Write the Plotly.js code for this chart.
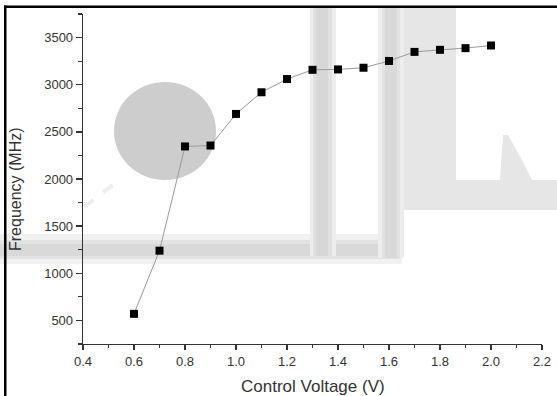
<!DOCTYPE html>
<html>
<head>
<meta charset="utf-8">
<script src="https://cdn.plot.ly/plotly-3.0.1.min.js"></script>
<style>
html,body{margin:0;padding:0;background:#fff;}
#wrap{position:relative;width:557px;height:396px;overflow:hidden;background:#fff;}
#chart{position:absolute;left:0;top:0;width:557px;height:396px;}
</style>
</head>
<body>
<div id="wrap"><div id="chart"></div>
<svg width="557" height="396" style="position:absolute;left:0;top:0;z-index:10;pointer-events:none">
  <rect x="4" y="5.5" width="553" height="2.5" fill="#000"></rect>
  <rect x="4" y="5.5" width="2.5" height="391" fill="#000"></rect>
</svg>
</div>
<script>
// Data
const voltage = [0.6, 0.7, 0.8, 0.9, 1.0, 1.1, 1.2, 1.3, 1.4, 1.5, 1.6, 1.7, 1.8, 1.9, 2.0];
const frequency = [570, 1240, 2345, 2355, 2690, 2920, 3060, 3158, 3162, 3180, 3252, 3348, 3370, 3388, 3416];
const xTitle = "Control Voltage (V)";
const yTitle = "Frequency (MHz)";

// Layout geometry (pixels)
const W = 557, H = 396;
const M = {l: 83, r: 15, t: 14, b: 52};
const PW = W - M.l - M.r, PH = H - M.t - M.b;
const px = x => (x - M.l) / PW;
const py = y => (M.t + PH - y) / PH;

function rect(x0, y0, x1, y1, color) {
  return {type: 'rect', xref: 'paper', yref: 'paper', layer: 'below',
    x0: px(x0), x1: px(x1), y0: py(y1), y1: py(y0),
    fillcolor: color, line: {width: 0}};
}

const shapes = [
  // faint watermark
  rect(0, 234, 402, 264, '#f1f1f1'),
  rect(0, 240, 400, 259, '#e3e3e3'),
  rect(0, 244, 398, 256, '#d9d9d9'),
  rect(310, 8, 336, 256, '#ededed'),
  rect(313, 8, 332, 256, '#e0e0e0'),
  rect(316, 8, 328, 256, '#d7d7d7'),
  rect(378, 8, 404, 258, '#ededed'),
  rect(382, 8, 400, 258, '#e2e2e2'),
  rect(385, 8, 397, 258, '#d9d9d9'),
  rect(404, 8, 456, 202, '#e6e6e6'),
  rect(404, 180, 557, 210, '#e6e6e6'),
  {type: 'path', xref: 'paper', yref: 'paper', layer: 'below',
    path: `M ${px(500)} ${py(180)} L ${px(503)} ${py(135)} L ${px(508)} ${py(135)} L ${px(522)} ${py(160)} L ${px(532)} ${py(180)} Z`,
    fillcolor: '#e6e6e6', line: {width: 0}},
  {type: 'circle', xref: 'paper', yref: 'paper', layer: 'below',
    x0: px(114), x1: px(216), y0: py(180), y1: py(82),
    fillcolor: '#cdcdcd', line: {width: 0}},
  {type: 'line', xref: 'paper', yref: 'paper', layer: 'below',
    x0: px(84), y0: py(207), x1: px(122), y1: py(178),
    line: {color: '#ededed', width: 4, dash: 'dash'}}
];

const font = {family: 'Arial, "Liberation Sans", sans-serif', color: '#333'};

const trace = {
  x: voltage, y: frequency, type: 'scatter', mode: 'lines+markers',
  line: {color: '#9a9a9a', width: 1},
  marker: {symbol: 'square', size: 8, color: '#000'},
  showlegend: false, hoverinfo: 'x+y'
};

const layout = {
  width: W, height: H,
  margin: M,
  paper_bgcolor: 'rgba(0,0,0,0)', plot_bgcolor: 'rgba(0,0,0,0)',
  font: Object.assign({size: 13}, font),
  showlegend: false,
  xaxis: {
    range: [0.4, 2.2], dtick: 0.2, tick0: 0.4, tickformat: '.1f',
    showline: true, linecolor: '#333', linewidth: 1.3, mirror: false,
    ticks: 'outside', ticklen: 5, tickwidth: 1.3, tickcolor: '#333',
    showgrid: false, zeroline: false,
    tickfont: Object.assign({size: 13}, font),
    minor: {dtick: 0.1, ticks: 'outside', ticklen: 3, tickwidth: 1.2, tickcolor: '#333', showgrid: false}
  },
  yaxis: {
    range: [250, 3750], dtick: 500, tick0: 500,
    showline: true, linecolor: '#333', linewidth: 1.3,
    ticks: 'outside', ticklen: 6, tickwidth: 1.3, tickcolor: '#333',
    showgrid: false, zeroline: false,
    tickfont: Object.assign({size: 13}, font),
    minor: {dtick: 250, tick0: 250, ticks: 'outside', ticklen: 4, tickwidth: 1.2, tickcolor: '#333', showgrid: false}
  },
  shapes: shapes,
  annotations: [
    {text: xTitle, xref: 'paper', yref: 'paper', x: px(313), y: py(386),
      xanchor: 'center', yanchor: 'middle', showarrow: false,
      font: Object.assign({size: 17}, font)},
    {text: yTitle, xref: 'paper', yref: 'paper', x: px(15), y: py(189),
      xanchor: 'center', yanchor: 'middle', showarrow: false, textangle: -90,
      font: Object.assign({size: 16}, font)}
  ]
};

Plotly.newPlot('chart', [trace], layout, {displayModeBar: false, staticPlot: true});
</script>
</body>
</html>
